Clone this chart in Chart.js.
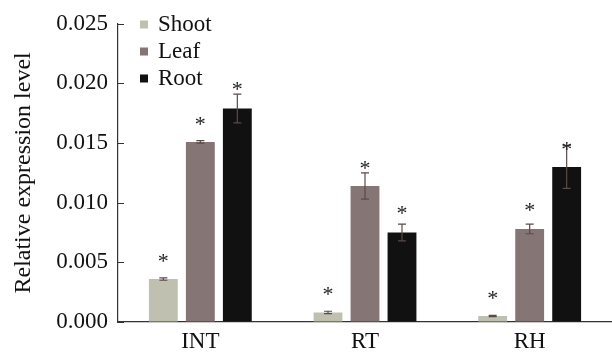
<!DOCTYPE html>
<html>
<head>
<meta charset="utf-8">
<script src="https://cdn.jsdelivr.net/npm/chart.js@4.4.1/dist/chart.umd.min.js"></script>
<style>
html,body{margin:0;padding:0;background:#fff;}
#wrap{width:612px;height:355px;position:relative;}
</style>
</head>
<body>
<div id="wrap"><canvas id="c" width="612" height="355"></canvas></div>
<script>
const categories = ['INT', 'RT', 'RH'];
const seriesNames = ['Shoot', 'Leaf', 'Root'];
const shootValues = [0.0036, 0.0008, 0.0005];
const shootErrors = [0.0001, 0.0001, 0.00005];
const leafValues = [0.0151, 0.0114, 0.0078];
const leafErrors = [0.0001, 0.0011, 0.0004];
const rootValues = [0.0179, 0.0075, 0.0130];
const rootErrors = [0.0012, 0.0007, 0.0018];
// heights (in data units) of the significance asterisks
const shootStars = [0.0055, 0.0027, 0.0024];
const leafStars = [0.0170, 0.0133, 0.0098];
const rootStars = [0.0199, 0.0095, 0.0149];
const yTicks = [0, 0.005, 0.010, 0.015, 0.020, 0.025];
const mark = '*';

const colors = ['#c0c0b0', '#857574', '#111111'];
const serif = "'Liberation Serif', 'Times New Roman', serif";

const errPlugin = {
  id: 'errPlugin',
  afterDatasetsDraw(chart) {
    const ctx = chart.ctx;
    const ys = chart.scales.y;
    ctx.save();
    chart.data.datasets.forEach((ds, i) => {
      const meta = chart.getDatasetMeta(i);
      meta.data.forEach((el, j) => {
        const v = ds.data[j], e = ds.errors[j];
        const top = ys.getPixelForValue(v + e);
        const bot = ys.getPixelForValue(v - e);
        const x = el.x;
        ctx.strokeStyle = '#5a4a48';
        ctx.lineWidth = 1.2;
        ctx.beginPath();
        ctx.moveTo(x, top); ctx.lineTo(x, bot);
        ctx.moveTo(x - 4, top); ctx.lineTo(x + 4, top);
        ctx.moveTo(x - 4, bot); ctx.lineTo(x + 4, bot);
        ctx.stroke();
        const sy = ys.getPixelForValue(ds.stars[j]);
        ctx.fillStyle = '#222';
        ctx.font = '22px ' + serif;
        ctx.textAlign = 'center';
        ctx.textBaseline = 'alphabetic';
        ctx.fillText(mark, x, sy + 11.7);
      });
    });
    // inward y ticks
    ctx.strokeStyle = '#333';
    ctx.lineWidth = 1;
    yTicks.forEach(t => {
      const y = Math.round(ys.getPixelForValue(t)) + 0.5;
      ctx.beginPath();
      ctx.moveTo(ys.right, y); ctx.lineTo(ys.right + 6, y);
      ctx.stroke();
    });
    // legend
    ctx.font = '23px ' + serif;
    ctx.textAlign = 'left';
    ctx.textBaseline = 'middle';
    chart.data.datasets.forEach((ds, i) => {
      const cy = 24 + i * 27;
      ctx.fillStyle = ds.backgroundColor;
      ctx.fillRect(140, cy - 3.5, 8, 8);
      ctx.fillStyle = '#111';
      ctx.fillText(ds.label, 158, cy + 1);
    });
    ctx.restore();
  }
};

const valueSets = [shootValues, leafValues, rootValues];
const errorSets = [shootErrors, leafErrors, rootErrors];
const starSets = [shootStars, leafStars, rootStars];

new Chart(document.getElementById('c'), {
  type: 'bar',
  data: {
    labels: categories,
    datasets: seriesNames.map((n, i) => ({
      label: n,
      data: valueSets[i],
      errors: errorSets[i],
      stars: starSets[i],
      backgroundColor: colors[i],
      borderWidth: 0,
      categoryPercentage: 0.674,
      barPercentage: 0.78
    }))
  },
  options: {
    responsive: false,
    animation: false,
    devicePixelRatio: 1,
    layout: { padding: { top: 8, right: 0, left: 0, bottom: 0 } },
    plugins: { legend: { display: false }, tooltip: { enabled: false } },
    scales: {
      x: {
        grid: { drawOnChartArea: false, drawTicks: false },
        border: { color: '#333', width: 1.2 },
        ticks: { color: '#111', font: { family: serif, size: 23 }, padding: 6 },
        afterFit: s => { s.height = 33; }
      },
      y: {
        min: 0, max: 0.025,
        afterBuildTicks: s => { s.ticks = yTicks.map(v => ({ value: v })); },
        grid: { drawOnChartArea: false, drawTicks: false },
        border: { color: '#333', width: 1.2 },
        ticks: { color: '#111', font: { family: serif, size: 23 }, padding: 10,
          callback: v => v.toFixed(3) },
        title: { display: true, text: 'Relative expression level', color: '#111',
          font: { family: serif, size: 24 }, padding: { top: 9, bottom: 0 } },
        afterFit: s => { s.width = 118; }
      }
    }
  },
  plugins: [errPlugin]
});
</script>
</body>
</html>
